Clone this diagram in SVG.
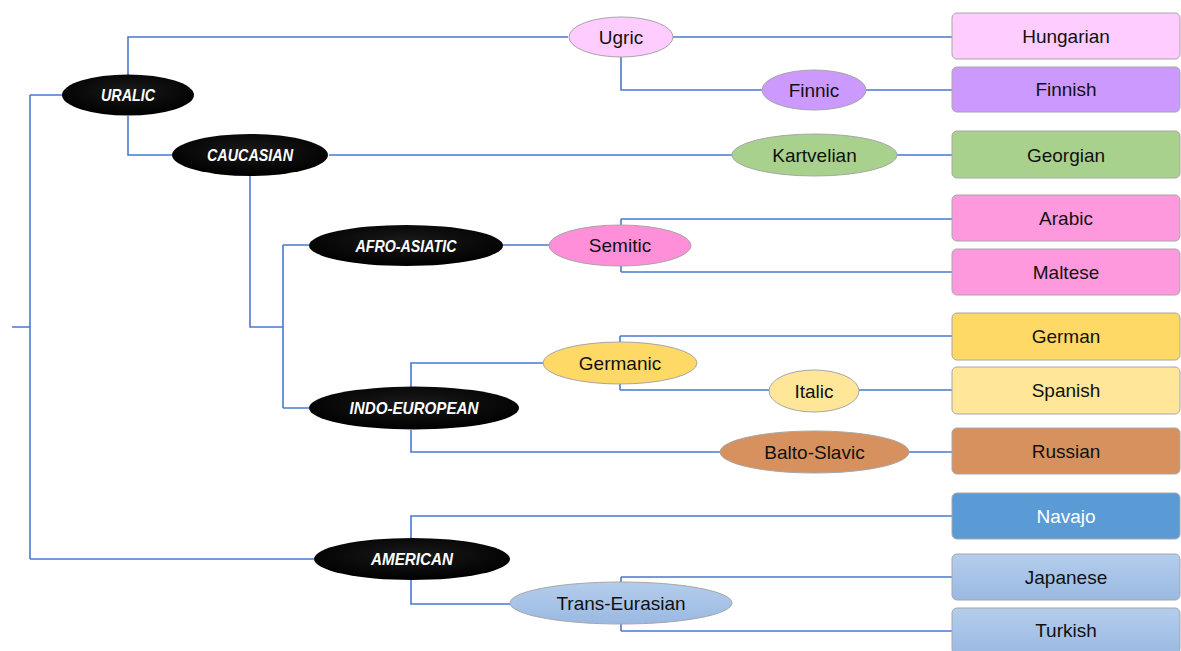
<svg xmlns="http://www.w3.org/2000/svg" width="1181" height="651" viewBox="0 0 1181 651">
<style>
.c{fill:none;stroke:#4a78d0;stroke-width:1.6}
.fam{fill:url(#blk)}
.ft{font-family:"Liberation Sans",Arial,sans-serif;font-weight:bold;font-style:italic;font-size:16.5px;fill:#fff;text-anchor:middle;dominant-baseline:central}
.sub{stroke:#a6a6a6;stroke-width:1}
.box{stroke:#a6a6a6;stroke-width:1}
.t{font-family:"Liberation Sans",Arial,sans-serif;font-size:19px;fill:#111;text-anchor:middle;dominant-baseline:central}
</style>
<defs>
<radialGradient id="blk" cx="0.5" cy="0.4" r="0.6">
<stop offset="0" stop-color="#1a1a1a"/>
<stop offset="1" stop-color="#000"/>
</radialGradient>
<linearGradient id="lb" x1="0" y1="0" x2="0" y2="1">
<stop offset="0" stop-color="#b4cdec"/>
<stop offset="1" stop-color="#9ab9e2"/>
</linearGradient>
</defs>
<rect width="1181" height="651" fill="#fff"/>
<g id="connectors">
<path class="c" d="M12,327 H30 M30,95 V559 M30,95 H62 M30,559 H314"/>
<path class="c" d="M128,75 V37 H568 M128,116 V155 H172"/>
<path class="c" d="M673,37 H952 M621,57 V90 H762 M866,90 H952"/>
<path class="c" d="M329,155 H732 M250,176 V327 H283 M897,155 H952"/>
<path class="c" d="M283,245 V408 M283,245 H309 M283,408 H309"/>
<path class="c" d="M502,245 H549 M621,219 V272 M621,219 H952 M621,272 H952"/>
<path class="c" d="M411,387 V363 H543 M411,430 V452 H720"/>
<path class="c" d="M620,336 V390 M620,336 H952 M620,390 H769 M859,390 H952 M909,452 H952"/>
<path class="c" d="M411,538 V516 H952 M411,580 V604 H510"/>
<path class="c" d="M621,577 V631 M621,577 H952 M621,631 H952"/>
</g>
<g id="uralic"><ellipse class="fam" cx="128" cy="95" rx="66" ry="20.5"/><text class="ft" x="128" y="95" textLength="54" lengthAdjust="spacingAndGlyphs">URALIC</text></g>
<g id="caucasian"><ellipse class="fam" cx="250" cy="155" rx="78" ry="21"/><text class="ft" x="250" y="155" textLength="86" lengthAdjust="spacingAndGlyphs">CAUCASIAN</text></g>
<g id="afro-asiatic"><ellipse class="fam" cx="406" cy="245.5" rx="97" ry="20.5"/><text class="ft" x="406" y="245.5" textLength="101" lengthAdjust="spacingAndGlyphs">AFRO-ASIATIC</text></g>
<g id="indo-european"><ellipse class="fam" cx="414" cy="408" rx="105" ry="21.5"/><text class="ft" x="414" y="408" textLength="129" lengthAdjust="spacingAndGlyphs">INDO-EUROPEAN</text></g>
<g id="american"><ellipse class="fam" cx="412" cy="559" rx="98" ry="21"/><text class="ft" x="412" y="559" textLength="82" lengthAdjust="spacingAndGlyphs">AMERICAN</text></g>

<g id="ugric"><ellipse class="sub" fill="#ffccff" cx="621" cy="37" rx="52" ry="20"/><text class="t" x="621" y="37">Ugric</text></g>
<g id="finnic"><ellipse class="sub" fill="#cc99ff" cx="814" cy="90" rx="52" ry="20"/><text class="t" x="814" y="90">Finnic</text></g>
<g id="kartvelian"><ellipse class="sub" fill="#a9d18e" cx="814.5" cy="155" rx="82.5" ry="21"/><text class="t" x="814.5" y="155">Kartvelian</text></g>
<g id="semitic"><ellipse class="sub" fill="#ff8fd8" cx="620" cy="245.5" rx="71" ry="20.5"/><text class="t" x="620" y="245.5">Semitic</text></g>
<g id="germanic"><ellipse class="sub" fill="#ffd966" cx="620" cy="363" rx="77" ry="21"/><text class="t" x="620" y="363">Germanic</text></g>
<g id="italic"><ellipse class="sub" fill="#ffe699" cx="814" cy="391" rx="45" ry="21"/><text class="t" x="814" y="391">Italic</text></g>
<g id="balto-slavic"><ellipse class="sub" fill="#d6915e" cx="814.5" cy="452" rx="94.5" ry="21"/><text class="t" x="814.5" y="452">Balto-Slavic</text></g>
<g id="trans-eurasian"><ellipse class="sub" fill="url(#lb)" cx="621" cy="603" rx="111" ry="21"/><text class="t" x="621" y="603">Trans-Eurasian</text></g>

<g id="hungarian"><rect class="box" fill="#ffccff" x="952" y="13" width="228" height="46" rx="5"/><text class="t" x="1066" y="36">Hungarian</text></g>
<g id="finnish"><rect class="box" fill="#cc99ff" x="952" y="67" width="228" height="45" rx="5"/><text class="t" x="1066" y="89.5">Finnish</text></g>
<g id="georgian"><rect class="box" fill="#a9d18e" x="952" y="131" width="228" height="47" rx="5"/><text class="t" x="1066" y="155">Georgian</text></g>
<g id="arabic"><rect class="box" fill="#ff99dd" x="952" y="195" width="228" height="46" rx="5"/><text class="t" x="1066" y="218">Arabic</text></g>
<g id="maltese"><rect class="box" fill="#ff99dd" x="952" y="249" width="228" height="46" rx="5"/><text class="t" x="1066" y="272">Maltese</text></g>
<g id="german"><rect class="box" fill="#ffd966" x="952" y="313" width="228" height="47" rx="5"/><text class="t" x="1066" y="336">German</text></g>
<g id="spanish"><rect class="box" fill="#ffe699" x="952" y="367" width="228" height="47" rx="5"/><text class="t" x="1066" y="390">Spanish</text></g>
<g id="russian"><rect class="box" fill="#d6915e" x="952" y="428" width="228" height="46" rx="5"/><text class="t" x="1066" y="451">Russian</text></g>
<g id="navajo"><rect class="box" fill="#5b9bd5" x="952" y="493" width="228" height="46" rx="5"/><text class="t" x="1066" y="516" style="fill:#fff">Navajo</text></g>
<g id="japanese"><rect class="box" fill="url(#lb)" x="952" y="554" width="228" height="46" rx="5"/><text class="t" x="1066" y="577">Japanese</text></g>
<g id="turkish"><rect class="box" fill="url(#lb)" x="952" y="608" width="228" height="46" rx="5"/><text class="t" x="1066" y="630">Turkish</text></g>
</svg>
